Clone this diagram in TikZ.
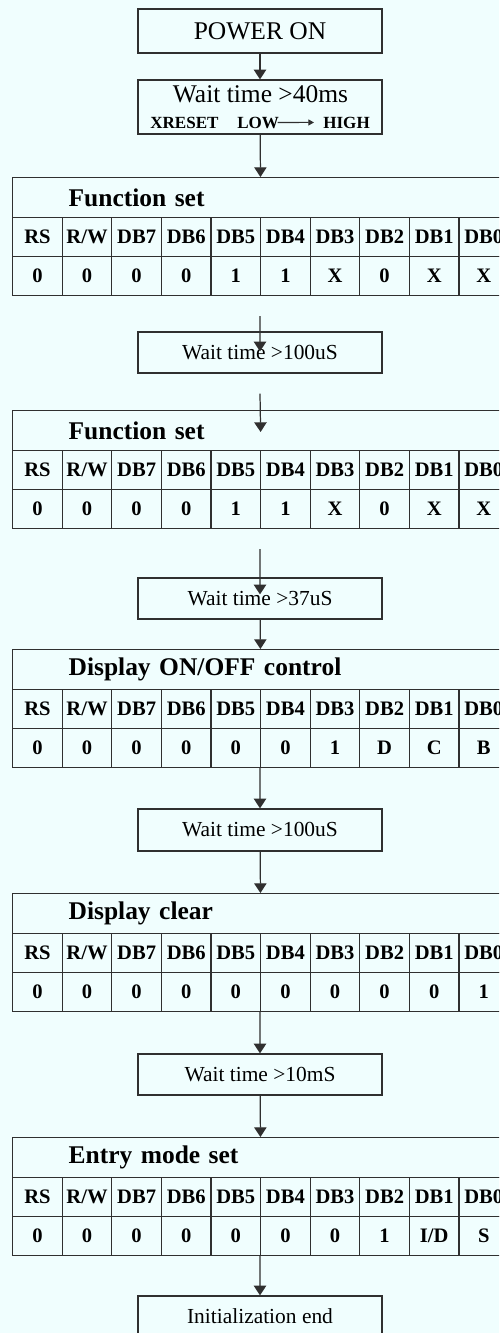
\documentclass[tikz,border=0pt]{standalone}
\usepackage{fontspec}
\setmainfont{Liberation Serif}
\usepackage{tikz}
\usetikzlibrary{arrows.meta}
\definecolor{paper}{HTML}{F0FEFE}
\definecolor{ink}{HTML}{303030}

% register block: name, top edge, title, bit values
\newcommand{\regtable}[4]{%
  \node[ttl,anchor=north west] (#1) at (0.24,#2) {\hspace*{1.12cm}#3};
  \foreach \h [count=\i from 0] in {RS,R/W,DB7,DB6,DB5,DB4,DB3,DB2,DB1,DB0}
    \node[cell,anchor=north west] (#1-h\i) at ({0.24+0.992*\i},#2-0.8) {\h};
  \foreach \v [count=\i from 0] in {#4}
    \node[cell,anchor=north west] (#1-v\i) at ({0.24+0.992*\i},#2-1.58) {\v};
}

\begin{document}
\begin{tikzpicture}[
  bx/.style={draw=ink,line width=0.7pt,minimum width=4.88cm,minimum height=0.82cm,inner sep=0pt,font=\fontsize{12.2}{14}\selectfont},
  big/.style={font=\fontsize{14.5}{17}\selectfont},
  ttl/.style={draw=ink,line width=0.7pt,text width=9.92cm,inner xsep=0pt,inner ysep=0pt,minimum height=0.8cm,align=left,font=\fontsize{14.5}{17}\bfseries},
  cell/.style={draw=ink,line width=0.7pt,minimum width=0.992cm,minimum height=0.78cm,inner sep=0pt,font=\fontsize{11.7}{14}\bfseries},
  sig/.style={inner sep=0pt,anchor=base west,font=\fontsize{9.7}{11}\bfseries},
  ar/.style={-{Triangle[length=5.5pt,width=7pt]},draw=ink,line width=0.7pt},
  sar/.style={-{Triangle[length=3.2pt,width=3.4pt]},draw=ink,line width=0.6pt}]

\path[use as bounding box] (0,0) rectangle (9.98,-26.66);
\fill[paper] (0,0) rectangle (9.98,-26.66);
\clip (0,0) rectangle (9.98,-26.66);

\node[bx,big,minimum height=0.88cm] (pwr) at (5.2,-0.62) {POWER ON};
\node[bx,minimum height=1.08cm] (w40) at (5.2,-2.14) {};
\node[big,inner sep=0pt,anchor=base] (w40t) at (5.21,-2.04) {Wait time >40ms};
\node[sig] (xrst) at (3.0,-2.56) {XRESET};
\node[sig] (low) at (4.74,-2.56) {LOW};
\node[sig] (high) at (6.46,-2.56) {HIGH};
\draw[sar,shorten <=-1pt,shorten >=1.8mm] (low.east) -- (high.west);

\regtable{t1}{-3.54}{Function set}{0,0,0,0,1,1,X,0,X,X}
\node[bx] (w100) at (5.2,-7.05) {Wait time >100uS};
\regtable{t2}{-8.20}{Function set}{0,0,0,0,1,1,X,0,X,X}
\node[bx] (w37) at (5.2,-11.97) {Wait time >37uS};
\regtable{t3}{-12.98}{Display ON/OFF control}{0,0,0,0,0,0,1,D,C,B}
\node[bx,minimum height=0.84cm] (w100b) at (5.2,-16.6) {Wait time >100uS};
\regtable{t4}{-17.86}{Display clear}{0,0,0,0,0,0,0,0,0,1}
\node[bx] (w10) at (5.2,-21.49) {Wait time >10mS};
\regtable{t5}{-22.74}{Entry mode set}{0,0,0,0,0,0,0,1,I/D,S}
\node[bx] (iend) at (5.2,-26.33) {Initialization end};

\draw[ar] (pwr) -- (w40);
\draw[ar] (w40) -- (t1);
\draw[ar] ([yshift=-4mm]t1-v5.south west) -- ([yshift=-4mm]w100.north);
\draw[ar] ([yshift=-4mm]w100.south) -- ([yshift=-4.4mm]t2.north);
\draw[ar] ([yshift=-4mm]t2-v5.south west) -- ([yshift=-3.4mm]w37.north);
\draw[ar] (w37) -- (t3);
\draw[ar] (t3-v5.south west) -- (w100b);
\draw[ar] (w100b) -- (t4);
\draw[ar] (t4-v5.south west) -- (w10);
\draw[ar] (w10) -- (t5);
\draw[ar] (t5-v5.south west) -- (iend);
\end{tikzpicture}
\end{document}
